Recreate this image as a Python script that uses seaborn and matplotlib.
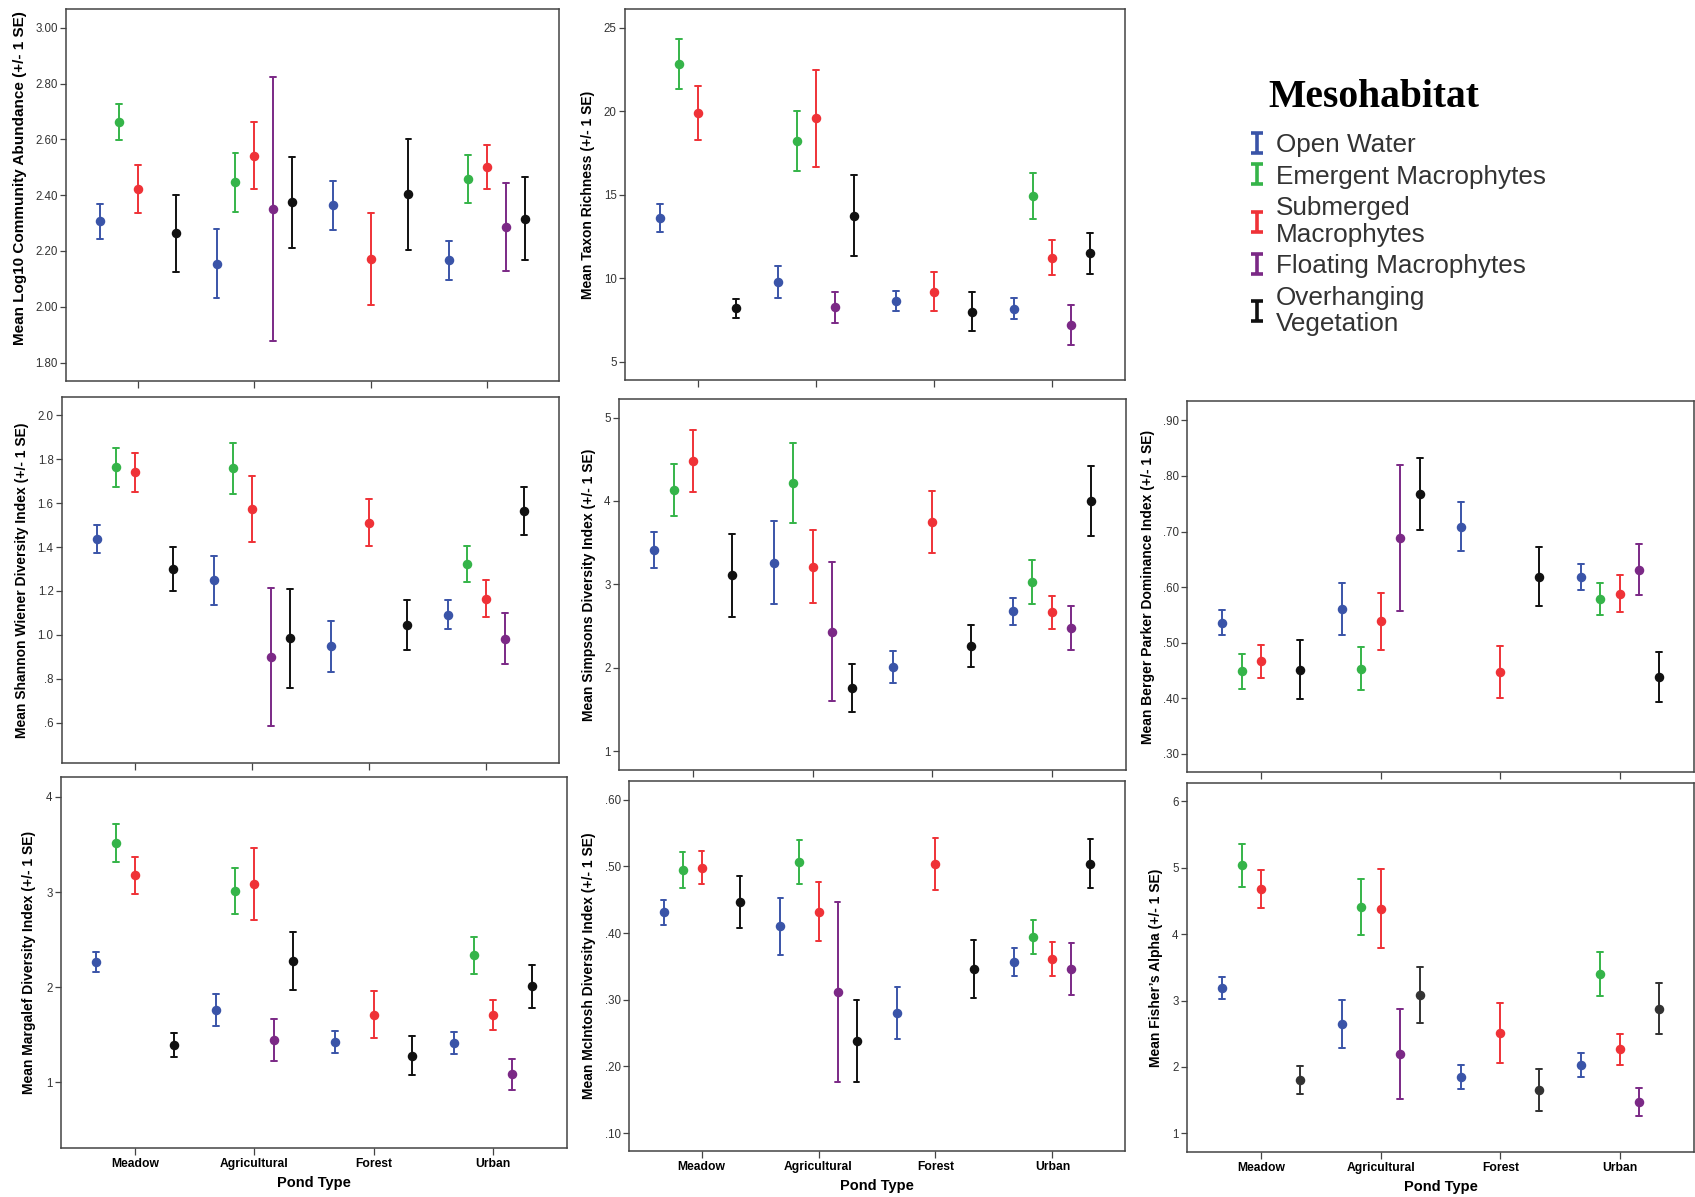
import numpy as np
import pandas as pd
import matplotlib
matplotlib.use("Agg")
import matplotlib.pyplot as plt
from matplotlib.path import Path
from matplotlib.lines import Line2D
from matplotlib.ticker import FixedLocator, FuncFormatter
import seaborn as sns

sns.set_theme(style="ticks")
plt.rcParams["font.family"] = ["Liberation Sans", "DejaVu Sans"]

# ---------------------------------------------------------------- categories
ponds = ["Meadow", "Agricultural", "Forest", "Urban"]
habitats = ["Open Water", "Emergent Macrophytes", "Submerged Macrophytes",
            "Floating Macrophytes", "Overhanging Vegetation"]
legend_labels = ["Open Water", "Emergent Macrophytes", "Submerged\nMacrophytes",
                 "Floating Macrophytes", "Overhanging\nVegetation"]
habitat_colors = ["#3a54a8", "#35b449", "#ef3237", "#7b2986", "#111111"]

# ---------------------------------------------------------------- group means and SEs
# rows: habitats (order above); columns: Meadow, Agricultural, Forest, Urban
# None = mesohabitat not sampled in that pond type
abund_mean = [[2.307, 2.154, 2.364, 2.167],
              [2.663, 2.446, None, 2.458],
              [2.422, 2.542, 2.171, 2.500],
              [None, 2.350, None, 2.286],
              [2.263, 2.374, 2.403, 2.315]]
abund_se = [[0.063, 0.124, 0.088, 0.070],
            [0.065, 0.106, None, 0.087],
            [0.087, 0.119, 0.165, 0.078],
            [None, 0.474, None, 0.158],
            [0.137, 0.163, 0.198, 0.149]]

rich_mean = [[13.61, 9.76, 8.64, 8.18],
             [22.84, 18.21, None, 14.93],
             [19.90, 19.57, 9.20, 11.21],
             [None, 8.26, None, 7.20],
             [8.20, 13.75, 8.00, 11.49]]
rich_se = [[0.84, 0.96, 0.62, 0.62],
           [1.49, 1.79, None, 1.36],
           [1.63, 2.89, 1.14, 1.05],
           [None, 0.94, None, 1.18],
           [0.58, 2.41, 1.18, 1.24]]

shannon_mean = [[1.437, 1.248, 0.949, 1.093],
                [1.762, 1.757, None, 1.323],
                [1.739, 1.573, 1.511, 1.165],
                [None, 0.901, None, 0.984],
                [1.301, 0.986, 1.045, 1.564]]
shannon_se = [[0.062, 0.112, 0.115, 0.066],
              [0.087, 0.115, None, 0.080],
              [0.088, 0.150, 0.106, 0.085],
              [None, 0.313, None, 0.118],
              [0.100, 0.225, 0.113, 0.108]]

simpson_mean = [[3.409, 3.261, 2.005, 2.675],
                [4.135, 4.218, None, 3.026],
                [4.482, 3.213, 3.748, 2.663],
                [None, 2.432, None, 2.476],
                [3.110, 1.758, 2.260, 3.999]]
simpson_se = [[0.213, 0.495, 0.193, 0.164],
              [0.311, 0.477, None, 0.263],
              [0.375, 0.435, 0.373, 0.203],
              [None, 0.837, None, 0.265],
              [0.497, 0.285, 0.255, 0.419]]

berger_mean = [[0.536, 0.560, 0.709, 0.618],
               [0.448, 0.453, None, 0.578],
               [0.466, 0.538, 0.447, 0.588],
               [None, 0.688, None, 0.631],
               [0.451, 0.768, 0.619, 0.438]]
berger_se = [[0.023, 0.047, 0.044, 0.024],
             [0.032, 0.039, None, 0.029],
             [0.029, 0.052, 0.046, 0.033],
             [None, 0.131, None, 0.046],
             [0.053, 0.065, 0.054, 0.045]]

margalef_mean = [[2.268, 1.760, 1.424, 1.413],
                 [3.516, 3.012, None, 2.335],
                 [3.176, 3.085, 1.711, 1.711],
                 [None, 1.445, None, 1.084],
                 [1.392, 2.279, 1.277, 2.009]]
margalef_se = [[0.107, 0.168, 0.117, 0.112],
               [0.200, 0.242, None, 0.196],
               [0.195, 0.380, 0.247, 0.159],
               [None, 0.224, None, 0.166],
               [0.126, 0.305, 0.205, 0.223]]

mcintosh_mean = [[0.431, 0.410, 0.280, 0.357],
                 [0.495, 0.507, None, 0.394],
                 [0.498, 0.432, 0.503, 0.361],
                 [None, 0.311, None, 0.346],
                 [0.447, 0.238, 0.346, 0.504]]
mcintosh_se = [[0.019, 0.043, 0.039, 0.021],
               [0.027, 0.033, None, 0.026],
               [0.025, 0.044, 0.039, 0.026],
               [None, 0.135, None, 0.039],
               [0.039, 0.062, 0.044, 0.037]]

fisher_mean = [[3.184, 2.647, 1.848, 2.024],
               [5.036, 4.409, None, 3.400],
               [4.680, 4.379, 2.511, 2.265],
               [None, 2.200, None, 1.472],
               [1.803, 3.083, 1.648, 2.873]]
fisher_se = [[0.163, 0.356, 0.178, 0.181],
             [0.319, 0.424, None, 0.329],
             [0.291, 0.595, 0.459, 0.231],
             [None, 0.680, None, 0.218],
             [0.206, 0.417, 0.319, 0.384]]


def long_table(means, ses):
    """Three rows per group (mean - SE, mean, mean + SE): their mean is the
    group mean and their full range is the +/- 1 SE bar."""
    rows = []
    for hab, mrow, srow in zip(habitats, means, ses):
        for pond, m, s in zip(ponds, mrow, srow):
            if m is None:
                continue
            for v in (m - s, m, m + s):
                rows.append((pond, hab, v))
    return pd.DataFrame(rows, columns=["Pond Type", "Mesohabitat", "value"])


def spss_format(decimals):
    def fmt(v, _):
        s = f"{v:.{decimals}f}"
        return s[1:] if s.startswith("0.") else s
    return FuncFormatter(fmt)


W, H = 1695, 1197
fig = plt.figure(figsize=(W / 100, H / 100), dpi=100)

# panel layout: (left, top, right, bottom) in pixels, y range, ticks, decimals, label position
panels = [
    dict(m=abund_mean, s=abund_se, box=(66, 9, 559, 381), ylim=(1.734, 3.067),
         ticks=np.arange(1.8, 3.01, 0.2), dec=2, lab=(-0.079, 0.546), lsize=11,
         ylabel="Mean Log10 Community Abundance (+/- 1 SE)", bottom=False),
    dict(m=rich_mean, s=rich_se, box=(625, 9, 1125, 380), ylim=(3.9, 26.12),
         ticks=np.arange(5, 26, 5), dec=0, lab=(-0.060, 0.5),
         ylabel="Mean Taxon Richness (+/- 1 SE)", bottom=False),
    dict(m=shannon_mean, s=shannon_se, box=(62, 397, 559, 763), ylim=(0.418, 2.082),
         ticks=np.arange(0.6, 2.01, 0.2), dec=1, lab=(-0.066, 0.5),
         ylabel="Mean Shannon Wiener Diversity Index (+/- 1 SE)", bottom=False),
    dict(m=simpson_mean, s=simpson_se, box=(619, 399, 1126, 770), ylim=(0.773, 5.223),
         ticks=np.arange(1, 5.1, 1), dec=0, lab=(-0.045, 0.5),
         ylabel="Mean Simpsons Diversity Index (+/- 1 SE)", bottom=False),
    dict(m=berger_mean, s=berger_se, box=(1187, 401, 1694, 772), ylim=(0.267, 0.935),
         ticks=np.arange(0.3, 0.91, 0.1), dec=2, lab=(-0.063, 0.5),
         ylabel="Mean Berger Parker Dominance Index (+/- 1 SE)", bottom=False),
    dict(m=margalef_mean, s=margalef_se, box=(61, 777, 567, 1148), ylim=(0.309, 4.21),
         ticks=np.arange(1, 4.1, 1), dec=0, lab=(-0.049, 0.5),
         ylabel="Mean Margalef Diversity Index (+/- 1 SE)", bottom=True),
    dict(m=mcintosh_mean, s=mcintosh_se, box=(629, 781, 1125, 1151), ylim=(0.073, 0.628),
         ticks=np.arange(0.1, 0.61, 0.1), dec=2, lab=(-0.067, 0.5),
         ylabel="Mean McIntosh Diversity Index (+/- 1 SE)", bottom=True),
    dict(m=fisher_mean, s=fisher_se, box=(1187, 783, 1694, 1152), ylim=(0.719, 6.276),
         ticks=np.arange(1, 6.1, 1), dec=0, lab=(-0.047, 0.5),
         ylabel="Mean Fisher\u2019s Alpha (+/- 1 SE)", bottom=True, dark="#333333"),
]

spine_color = "#444444"
for p in panels:
    l, t, r, b = p["box"]
    ax = fig.add_axes([l / W, 1 - b / H, (r - l) / W, (b - t) / H])
    pal = list(habitat_colors)
    if "dark" in p:
        pal[-1] = p["dark"]
    df = long_table(p["m"], p["s"])
    sns.pointplot(data=df, x="Pond Type", y="value", hue="Mesohabitat",
                  order=ponds, hue_order=habitats, palette=pal,
                  estimator="mean", errorbar=("pi", 100), dodge=0.65,
                  capsize=0.05, linestyle="none", marker="o",
                  markersize=5.8, linewidth=1.4, legend=False, ax=ax)
    ax.set_xlim(-0.62, 3.62)
    ax.set_ylim(*p["ylim"])
    ax.yaxis.set_major_locator(FixedLocator(p["ticks"]))
    ax.yaxis.set_major_formatter(spss_format(p["dec"]))
    for sp in ax.spines.values():
        sp.set_visible(True)
        sp.set_color(spine_color)
        sp.set_linewidth(1.1)
    ax.tick_params(axis="both", direction="out", length=4.5, width=0.9,
                   color=spine_color, labelsize=8.3, labelcolor="#333333", pad=1.5)
    ax.tick_params(axis="x", length=4.8, pad=2.5)
    ax.set_ylabel(p["ylabel"], fontsize=p.get("lsize", 10), fontweight="bold", color="black")
    ax.yaxis.set_label_coords(*p["lab"])
    if p["bottom"]:
        ax.set_xticklabels(ponds, fontsize=8.7, fontweight="bold", color="black")
        ax.set_xlabel("Pond Type", fontsize=10.5, fontweight="bold", color="black")
        ax.xaxis.set_label_coords(0.5, -0.075)
        ax.xaxis.label.set_verticalalignment("top")
    else:
        ax.set_xticklabels([])
        ax.set_xlabel("")

# legend heading
fig.text(1268 / W, 1 - 107 / H, "Mesohabitat", ha="left", va="baseline",
         family="Liberation Serif", fontweight="bold", fontsize=28.5, color="black")

# legend entries: "I" shaped error-bar glyph per mesohabitat
ibar = Path([(-0.6, -1), (0.6, -1), (0, -1), (0, 1), (-0.6, 1), (0.6, 1)],
            [Path.MOVETO, Path.LINETO, Path.MOVETO, Path.LINETO, Path.MOVETO, Path.LINETO])
handles = [Line2D([], [], color=c, marker=ibar, markersize=15, markeredgewidth=2.6,
                  markerfacecolor="none", linestyle="none") for c in habitat_colors]
leg = fig.legend(handles, legend_labels, loc="upper left",
                 bbox_to_anchor=(1249.5 / W, 1 - 133 / H), frameon=False,
                 prop={"family": "Liberation Sans", "size": 18.8},
                 labelcolor="#333333", handlelength=0.6, handletextpad=0.42,
                 labelspacing=0.29, borderpad=0, borderaxespad=0)
for txt in leg.get_texts():
    txt.set_linespacing(1.13)

fig.savefig("out.png", dpi=100, facecolor="white")
